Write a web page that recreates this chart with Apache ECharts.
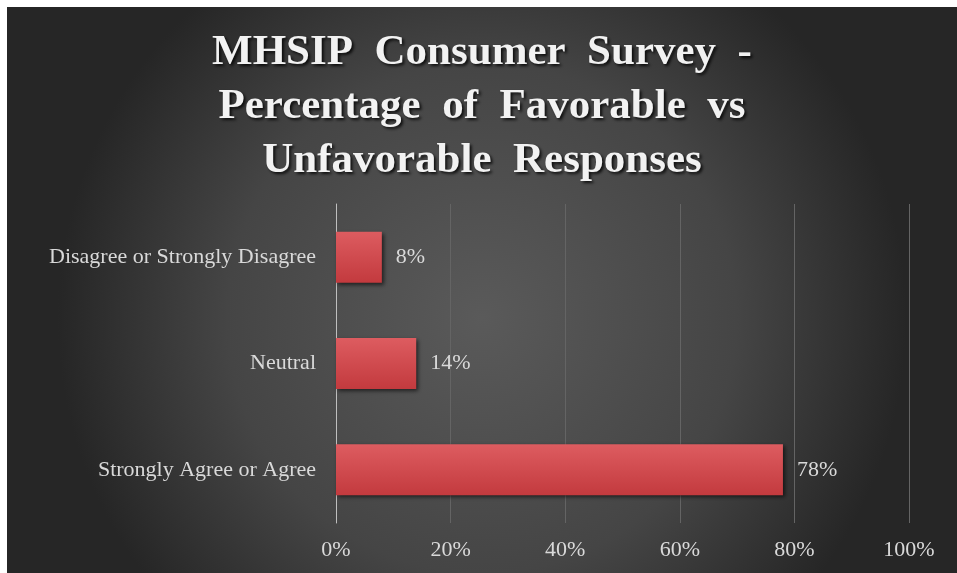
<!DOCTYPE html>
<html>
<head>
<meta charset="utf-8">
<script src="https://cdn.jsdelivr.net/npm/echarts@6/dist/echarts.min.js"></script>
<style>
	html,body{margin:0;padding:0;background:#fff;}
	#chart{position:absolute;left:7px;top:7px;width:950px;height:566px;}
</style>
</head>
<body>
<div id="chart"></div>
<script>
// chart data
var titleText = 'MHSIP  Consumer  Survey  -\nPercentage  of  Favorable  vs\nUnfavorable  Responses';
var categories = ['Strongly Agree or Agree', 'Neutral', 'Disagree or Strongly Disagree'];
var percentValues = [78, 14, 8];
var tickStep = 20;

var serif = '"Liberation Serif", "DejaVu Serif", serif';
var myChart = echarts.init(document.getElementById('chart'));
var option = {
	backgroundColor: {
		type: 'radial', x: 0.5, y: 0.55, r: 0.75,
		colorStops: [
			{offset: 0, color: '#5a5a5a'},
			{offset: 0.6, color: '#454545'},
			{offset: 1, color: '#262626'}
		]
	},
	title: {
		text: titleText,
		left: 'center',
		top: 14,
		textStyle: {
			color: '#f2f2f2',
			fontFamily: serif,
			fontWeight: 'bold',
			fontSize: 43,
			lineHeight: 54,
			textShadowColor: 'rgba(0,0,0,0.8)',
			textShadowBlur: 3,
			textShadowOffsetX: 2,
			textShadowOffsetY: 2
		}
	},
	grid: {left: 329, right: 48, top: 197, bottom: 50, containLabel: false},
	xAxis: {
		type: 'value',
		min: 0,
		max: 100,
		interval: tickStep,
		axisLine: {show: false},
		axisTick: {show: false},
		splitLine: {lineStyle: {color: '#646464', width: 1}},
		axisLabel: {
			formatter: '{value}%',
			color: '#d9d9d9',
			fontFamily: serif,
			fontSize: 22,
			margin: 16
		}
	},
	yAxis: {
		type: 'category',
		data: categories,
		axisLine: {show: true, lineStyle: {color: '#bfbfbf', width: 1}},
		axisTick: {show: false},
		axisLabel: {
			color: '#d9d9d9',
			fontFamily: serif,
			fontSize: 22,
			margin: 20
		}
	},
	series: [{
		type: 'bar',
		data: percentValues,
		barWidth: 51,
		itemStyle: {
			color: {
				type: 'linear', x: 0, y: 0, x2: 0, y2: 1,
				colorStops: [
					{offset: 0, color: '#dd5c60'},
					{offset: 1, color: '#c33a3e'}
				]
			},
			shadowColor: 'rgba(0,0,0,0.6)',
			shadowBlur: 4,
			shadowOffsetX: 2,
			shadowOffsetY: 2
		},
		label: {
			show: true,
			position: 'right',
			distance: 14,
			formatter: '{c}%',
			color: '#d9d9d9',
			fontFamily: serif,
			fontSize: 22
		}
	}]
};
myChart.setOption(option);
</script>
</body>
</html>
